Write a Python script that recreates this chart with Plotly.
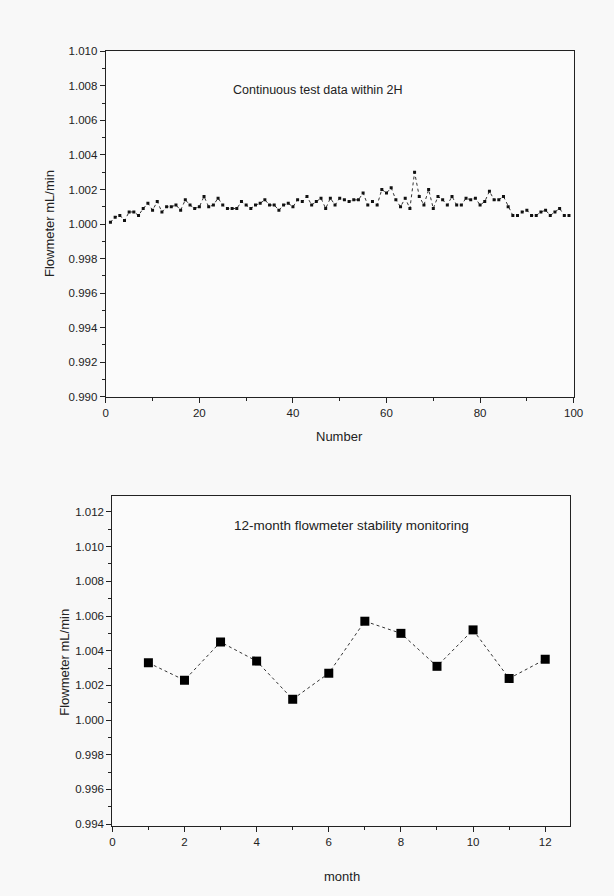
import plotly.graph_objects as go

# ---- Data ----
number = list(range(1, 100))
flow_2h = [
    1.0001, 1.0004, 1.0005, 1.0002, 1.0007, 1.0007, 1.0005, 1.0009, 1.0012, 1.0008,
    1.0013, 1.0007, 1.0010, 1.0010, 1.0011, 1.0008, 1.0014, 1.0011, 1.0009, 1.0010,
    1.0016, 1.0010, 1.0011, 1.0015, 1.0011, 1.0009, 1.0009, 1.0009, 1.0013, 1.0011,
    1.0009, 1.0011, 1.0012, 1.0014, 1.0011, 1.0011, 1.0008, 1.0011, 1.0012, 1.0010,
    1.0014, 1.0013, 1.0016, 1.0011, 1.0013, 1.0015, 1.0009, 1.0015, 1.0011, 1.0015,
    1.0014, 1.0013, 1.0014, 1.0014, 1.0018, 1.0011, 1.0013, 1.0011, 1.0020, 1.0018,
    1.0021, 1.0014, 1.0010, 1.0015, 1.0009, 1.0030, 1.0016, 1.0011, 1.0020, 1.0009,
    1.0016, 1.0014, 1.0011, 1.0016, 1.0011, 1.0011, 1.0015, 1.0014, 1.0015, 1.0011,
    1.0013, 1.0019, 1.0014, 1.0014, 1.0016, 1.0010, 1.0005, 1.0005, 1.0007, 1.0008,
    1.0005, 1.0005, 1.0007, 1.0008, 1.0005, 1.0007, 1.0009, 1.0005, 1.0005,
]
months = list(range(1, 13))
flow_month = [1.0033, 1.0023, 1.0045, 1.0034, 1.0012, 1.0027,
              1.0057, 1.0050, 1.0031, 1.0052, 1.0024, 1.0035]

top_title = "Continuous test data within 2H"
bottom_title = "12-month flowmeter stability monitoring"
y_label = "Flowmeter mL/min"

W, H = 614, 896
FONT = "Liberation Sans, Arial, sans-serif"
TXT = "#222222"

def px(x, y):
    return x / W, 1 - y / H

fig = go.Figure()

fig.add_trace(go.Scatter(
    x=number, y=flow_2h, mode="lines+markers",
    line=dict(color="#333333", width=1, dash="dot"),
    marker=dict(symbol="square", size=3, color="#111111"),
    xaxis="x", yaxis="y", showlegend=False,
))
fig.add_trace(go.Scatter(
    x=months, y=flow_month, mode="lines+markers",
    line=dict(color="#333333", width=1, dash="dot"),
    marker=dict(symbol="square", size=9, color="#000000"),
    xaxis="x2", yaxis="y2", showlegend=False,
))

axis_common = dict(
    showgrid=False, zeroline=False, showline=True, linecolor="#222222",
    linewidth=1.2, mirror=True, ticks="outside", ticklen=5, tickwidth=1,
    tickcolor="#222222", tickfont=dict(family=FONT, size=11.5, color=TXT),
)

fig.update_layout(
    width=W, height=H,
    margin=dict(l=0, r=0, t=0, b=0),
    paper_bgcolor="#f8f8f8", plot_bgcolor="#fbfbfb",
    xaxis=dict(domain=[105 / W, 583 / W], anchor="y", range=[0, 100],
               tick0=0, dtick=20,
               minor=dict(ticks="outside", ticklen=3, dtick=10, tickcolor="#222222"),
               **axis_common),
    yaxis=dict(domain=[1 - 396 / H, 1 - 46 / H], anchor="x", range=[0.990, 1.010],
               tick0=0.990, dtick=0.002, tickformat=".3f",
               minor=dict(ticks="outside", ticklen=3, dtick=0.001, tickcolor="#222222"),
               **axis_common),
    xaxis2=dict(domain=[111.7 / W, 579 / W], anchor="y2", range=[0, 12.68],
                tick0=0, dtick=2,
                minor=dict(ticks="outside", ticklen=3, dtick=1, tickcolor="#222222"),
                **axis_common),
    yaxis2=dict(domain=[1 - 831 / H, 1 - 497 / H], anchor="x2", range=[0.9939, 1.0129],
                tick0=0.994, dtick=0.002, tickformat=".3f",
                minor=dict(ticks="outside", ticklen=3, dtick=0.001, tickcolor="#222222"),
                **axis_common),
)

def ann(text, x, y, size, angle=0):
    ax, ay = px(x, y)
    fig.add_annotation(text=text, x=ax, y=ay, xref="paper", yref="paper",
                       showarrow=False, textangle=angle,
                       xanchor="center", yanchor="middle",
                       font=dict(family=FONT, size=size, color=TXT))

ann(top_title, 322, 85, 12.5)
ann(bottom_title, 356, 527, 13.5)
ann("Number", 344, 436, 13)
ann("month", 346, 882, 13)
ann(y_label, 47, 221, 13, -90)
ann(y_label, 62, 665, 13, -90)

fig.write_html(
    "out.html",
    config={"displayModeBar": False},
    post_script="document.body.style.margin='0';document.body.style.overflow='hidden';",
)
